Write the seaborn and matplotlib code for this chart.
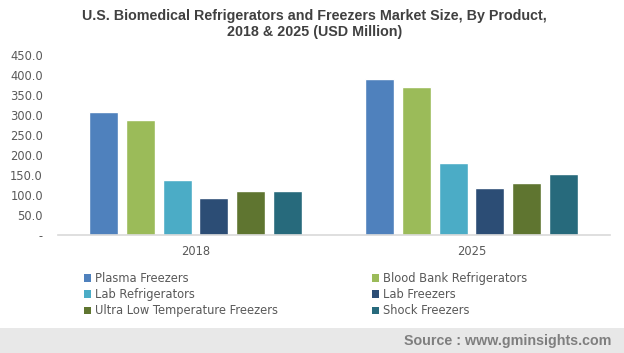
import matplotlib
matplotlib.use("Agg")
import matplotlib.pyplot as plt
import seaborn as sns
import pandas as pd
from matplotlib.patches import Patch, Rectangle

years = ["2018", "2025"]
products = ["Plasma Freezers", "Blood Bank Refrigerators", "Lab Refrigerators",
            "Lab Freezers", "Ultra Low Temperature Freezers", "Shock Freezers"]
colors = ["#4f81bd", "#9bbb59", "#4bacc6", "#2c4d75", "#5f7530", "#276a7c"]
values_2018 = [307, 287, 137, 92, 110, 110]
values_2025 = [389, 369, 180, 117, 130, 152]
y_ticks = [0, 50, 100, 150, 200, 250, 300, 350, 400, 450]
y_tick_labels = ["-"] + ["%.1f" % v for v in y_ticks[1:]]

df = pd.DataFrame({
    "year": [years[0]] * len(products) + [years[1]] * len(products),
    "product": products * 2,
    "value": values_2018 + values_2025,
})

sns.set_theme(style="white")
plt.rcParams['font.family'] = ['DejaVu Sans']

fig = plt.figure(figsize=(6.24, 3.53), dpi=100)
ax = fig.add_axes([57.5 / 624, 1 - 235 / 353, 552 / 624, 180.3 / 353])

sns.barplot(data=df, x="year", y="value", hue="product", hue_order=products,
            palette=colors, saturation=1, width=0.8, gap=0.21, ax=ax,
            legend=False)

ax.set_ylim(0, 450)
ax.set_xlim(-0.5, 1.5)
ax.set_yticks(y_ticks)
ax.set_yticklabels(y_tick_labels)
ax.set_xlabel("")
ax.set_ylabel("")
for s in ["top", "right", "left"]:
    ax.spines[s].set_visible(False)
ax.spines["bottom"].set_color("#d9d9d9")
ax.spines["bottom"].set_linewidth(1.2)
ax.tick_params(axis="y", length=0, pad=10.5, labelsize=8.3, labelcolor="#595959")
ax.tick_params(axis="x", length=0, pad=7, labelsize=8.3, labelcolor="#595959")

# title
fig.text(314.5 / 624, 1 - 24 / 353,
         "U.S. Biomedical Refrigerators and Freezers Market Size, By Product,\n2018 & 2025 (USD Million)",
         ha="center", va="center", fontsize=10.3, fontweight="bold",
         color="#404040", family="Liberation Sans", linespacing=1.1)

# legend, two columns placed separately
handles = [Patch(facecolor=c, edgecolor="none") for c in colors]
col1 = [0, 2, 4]
col2 = [1, 3, 5]
for idx, x0 in [(col1, 84), (col2, 372)]:
    leg = fig.legend([handles[i] for i in idx], [products[i] for i in idx],
                     loc="upper left", bbox_to_anchor=(x0 / 624, 1 - 272 / 353),
                     frameon=False, fontsize=8.3, handlelength=0.65,
                     handleheight=0.65, handletextpad=0.3, labelspacing=0.28,
                     borderaxespad=0, borderpad=0)
    for t in leg.get_texts():
        t.set_color("#595959")

# footer band
fig.patches.append(Rectangle((0, 0), 1, 25 / 353, transform=fig.transFigure,
                             facecolor="#e8e8e8", edgecolor="none", zorder=-1))
fig.text(611 / 624, 12 / 353, "Source : www.gminsights.com", ha="right",
         va="center", fontsize=10.3, fontweight="bold", color="#7f7f7f",
         family="Liberation Sans")

fig.savefig("out.png", dpi=100)
